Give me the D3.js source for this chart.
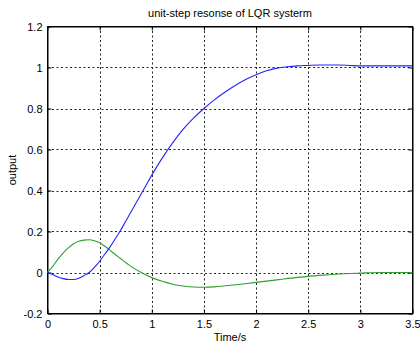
<!DOCTYPE html>
<html><head><meta charset="utf-8">
<script src="https://cdn.jsdelivr.net/npm/d3@7"></script>
<style>body{margin:0;background:#fff}svg{display:block}text{font-family:"Liberation Sans",Arial,sans-serif;fill:#000}</style>
</head><body><svg id="c" width="420" height="342"></svg>
<script>
const timeBlue = [0,0.05,0.1,0.15,0.2,0.25,0.3,0.35,0.4,0.45,0.5,0.55,0.6,0.65,0.7,0.75,0.8,0.85,0.9,0.95,1.0,1.1,1.2,1.3,1.4,1.5,1.6,1.7,1.8,1.9,2.0,2.1,2.2,2.3,2.4,2.5,2.6,2.7,2.8,2.9,3.0,3.5];
const outputBlue = [0,-0.01,-0.022,-0.03,-0.034,-0.034,-0.028,-0.015,0.0,0.025,0.055,0.09,0.125,0.165,0.205,0.25,0.295,0.34,0.385,0.43,0.475,0.558,0.632,0.698,0.753,0.80,0.842,0.879,0.912,0.941,0.965,0.984,0.997,1.004,1.008,1.01,1.012,1.012,1.012,1.01,1.008,1.008];
const timeGreen = [0,0.05,0.1,0.15,0.2,0.25,0.3,0.35,0.4,0.45,0.5,0.55,0.6,0.65,0.7,0.8,0.9,1.0,1.1,1.2,1.3,1.4,1.5,1.6,1.8,2.0,2.2,2.4,2.6,2.8,3.0,3.2,3.5];
const outputGreen = [0,0.03,0.065,0.095,0.12,0.14,0.152,0.158,0.16,0.155,0.145,0.128,0.108,0.088,0.068,0.03,0.0,-0.025,-0.043,-0.057,-0.066,-0.071,-0.072,-0.07,-0.06,-0.048,-0.036,-0.024,-0.014,-0.007,-0.003,0,0];
const xTicks = [0,0.5,1,1.5,2,2.5,3,3.5];
const yTicks = [-0.2,0,0.2,0.4,0.6,0.8,1,1.2];
const titleText = "unit-step resonse of LQR systerm";
const xLabel = "Time/s";
const yLabel = "output";

const L=47.5, R=412.5, T=26.5, B=313.5;
const svg = d3.select("#c");
const x = d3.scaleLinear().domain([0,3.5]).range([L,R]);
const y = d3.scaleLinear().domain([-0.2,1.2]).range([B,T]);

// grid
const g = svg.append("g");
xTicks.slice(1,-1).forEach(v=>{
  g.append("line").attr("x1",Math.round(x(v))+0.5).attr("x2",Math.round(x(v))+0.5).attr("y1",T).attr("y2",B)
   .attr("stroke","#222").attr("stroke-width",1).attr("stroke-dasharray","2,2.5");
});
yTicks.slice(1,-1).forEach(v=>{
  g.append("line").attr("y1",Math.round(y(v))+0.5).attr("y2",Math.round(y(v))+0.5).attr("x1",L).attr("x2",R)
   .attr("stroke","#222").attr("stroke-width",1).attr("stroke-dasharray","2,2.5");
});

// axes
const fmt = d=>String(d);
const xa = svg.append("g").attr("transform",`translate(0,${B})`)
  .call(d3.axisBottom(x).tickValues(xTicks).tickFormat(fmt).tickSizeInner(-4).tickSizeOuter(0).tickPadding(7));
const ya = svg.append("g").attr("transform",`translate(${L},0)`)
  .call(d3.axisLeft(y).tickValues(yTicks).tickFormat(fmt).tickSizeInner(-4).tickSizeOuter(0).tickPadding(5));
[xa,ya].forEach(a=>{
  a.selectAll("text").style("font-family","'Liberation Sans',Arial,sans-serif").style("font-size","11px").attr("fill","#000");
  a.select(".domain").attr("stroke","#000");
  a.selectAll(".tick line").attr("stroke","#000");
});
svg.append("g").attr("transform",`translate(0,${T})`)
  .call(d3.axisTop(x).tickValues(xTicks).tickFormat("").tickSizeInner(-4).tickSizeOuter(0));
svg.append("g").attr("transform",`translate(${R},0)`)
  .call(d3.axisRight(y).tickValues(yTicks).tickFormat("").tickSizeInner(-4).tickSizeOuter(0));
svg.append("rect").attr("x",L).attr("y",T).attr("width",R-L).attr("height",B-T)
  .attr("fill","none").attr("stroke","#000").attr("stroke-width",1);

// lines
const line = d3.line().x(d=>x(d[0])).y(d=>y(d[1])).curve(d3.curveMonotoneX);
svg.append("path").datum(timeGreen.map((t,i)=>[t,outputGreen[i]]))
  .attr("d",line).attr("fill","none").attr("stroke","#2e9e2e").attr("stroke-width",1.1);
svg.append("path").datum(timeBlue.map((t,i)=>[t,outputBlue[i]]))
  .attr("d",line).attr("fill","none").attr("stroke","#2424ff").attr("stroke-width",1.1);

// labels
svg.append("text").attr("x",(L+R)/2).attr("y",17).attr("text-anchor","middle").style("font-size","11px").text(titleText);
svg.append("text").attr("x",(L+R)/2).attr("y",341).attr("text-anchor","middle").style("font-size","11px").text(xLabel);
svg.append("text").attr("transform",`translate(16,${(T+B)/2}) rotate(-90)`).attr("text-anchor","middle").style("font-size","11px").text(yLabel);
</script></body></html>
